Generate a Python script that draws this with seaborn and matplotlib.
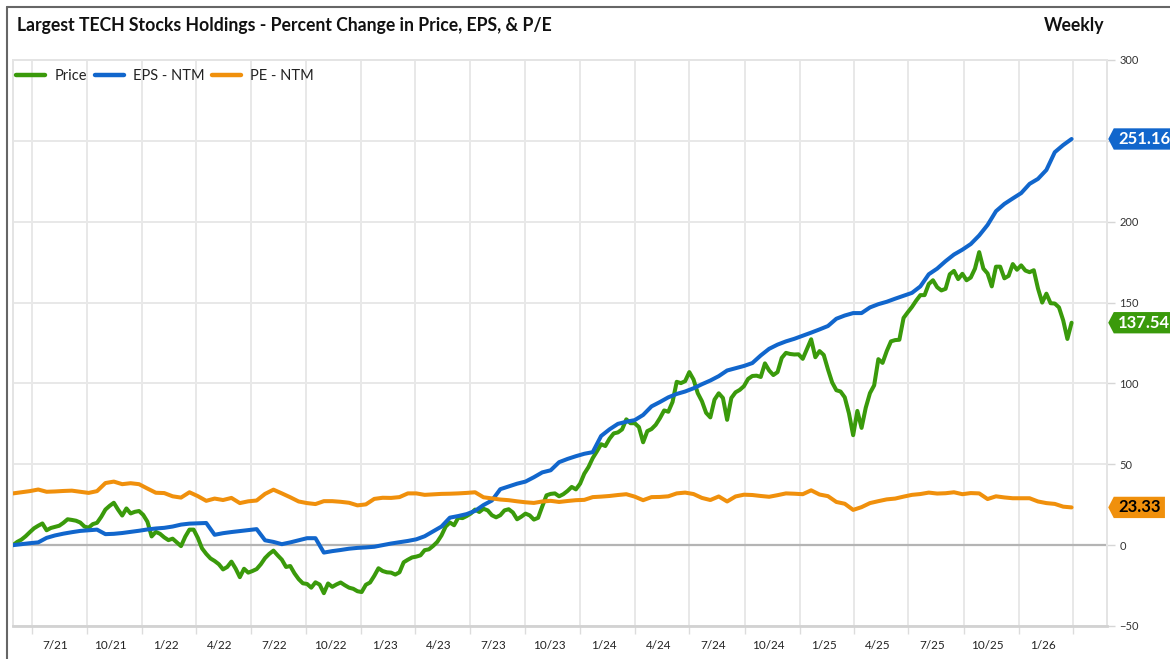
import numpy as np
import pandas as pd
import matplotlib
matplotlib.use("Agg")
import matplotlib.pyplot as plt
import matplotlib.dates as mdates
from matplotlib.ticker import FixedLocator, FixedFormatter, NullFormatter
from matplotlib.lines import Line2D
from matplotlib.path import Path
import seaborn as sns

# ---------------------------------------------------------------- data
title = "Largest TECH Stocks Holdings - Percent Change in Price, EPS, & P/E"
freq_label = "Weekly"
series_names = ["Price", "EPS - NTM", "PE - NTM"]
series_colors = ["#3a9a0b", "#1166cc", "#f0900c"]
label_text_colors = ["white", "white", "black"]

start_date = "2021-05-31"

# weekly percent change in price
price = [
    0, 2, 3.4, 5.5, 8, 10.4, 12, 13.4, 9.2, 10.6,
    11.3, 12, 13.8, 16, 15.6, 15.1, 14, 11.5, 10.8, 13,
    13.8, 17.5, 22, 24.3, 26.2, 22, 18.3, 22.7, 19.6, 20.6,
    21.1, 18.7, 14.5, 5.4, 8.2, 7, 4.8, 3.1, 4, 1.7,
    -0.6, 5.2, 9.6, 9.6, 4.5, -2, -5.4, -8.2, -9.8, -11.8,
    -15, -13.5, -10.2, -14.5, -19.8, -14.6, -17, -16, -14.8, -11.8,
    -8, -5.4, -3.4, -6.3, -9, -13.5, -12.9, -17.4, -21, -23.6,
    -24, -26.3, -23, -24.4, -29.7, -23.7, -25.8, -24.3, -23.1, -24.8,
    -26.3, -27, -28.5, -29, -24.5, -23.1, -19, -14.3, -16, -16.8,
    -17, -18.2, -16.8, -10.6, -9, -7.6, -7.1, -6.3, -3.1, -2.6,
    -0.5, 2, 6, 11.5, 14, 12.3, 17, 16.7, 18, 19.6,
    22, 20.5, 22.5, 21.5, 18.5, 17.2, 18.5, 21.5, 22.2, 20.2,
    16, 17.6, 19.5, 18.4, 15.8, 16.9, 24, 30.8, 31.7, 32,
    30.2, 31.5, 33.5, 36, 34.5, 38, 44.2, 48.3, 53.8, 58,
    62.4, 61.3, 65.8, 69.1, 69.7, 71.6, 77.8, 75.4, 75.4, 73,
    63.6, 70.5, 71.8, 74.4, 78.5, 83.3, 82.5, 88.5, 101, 100.2,
    101.4, 107, 102.4, 94, 89, 81.8, 79, 90, 93.9, 91,
    77.5, 91, 94.5, 96, 98.3, 102.8, 104.6, 104.8, 104, 112.4,
    108, 105.2, 107, 115.8, 118.9, 118.2, 117.9, 118, 115.2, 121.3,
    127.3, 116.2, 120, 117.6, 108.7, 100.6, 95.8, 95, 91.4, 81.5,
    68, 83, 72.5, 85, 94, 98.8, 115, 112.7, 120, 126,
    126.8, 127, 140.5, 144, 147.3, 151.2, 154.6, 154.6, 161.5, 163.8,
    159.5, 157.5, 158.5, 167.5, 169.6, 164.5, 167.8, 163.8, 165.5, 171,
    181.2, 171, 168, 160, 172.2, 172.2, 165, 166.5, 173.8, 170.3,
    173, 169.8, 168.8, 170, 158.7, 150, 155.5, 149.6, 149.4, 147,
    139, 127.5, 137.54,
]

# bi-weekly percent change in next-twelve-month EPS
eps_ntm = [
    0, 0.6, 1.2, 1.7, 4.5, 6, 7.1, 8, 8.8, 9.2,
    9.6, 6.8, 7, 7.5, 8.2, 8.9, 9.7, 10.3, 10.7, 11.5,
    12.7, 13.3, 13.5, 13.7, 6.4, 7.4, 8.1, 8.7, 9.3, 9.9,
    3, 2, 0.6, 1.7, 3, 4.3, 4.3, -4.6, -3.7, -3,
    -2.2, -1.7, -1.4, -1, 0, 1, 1.8, 2.6, 3.6, 5.5,
    8.5, 11.5, 17, 18, 19.2, 21.2, 24.8, 27.6, 34.6, 36.3,
    38, 39.3, 42, 45, 46.3, 51.3, 53.3, 55, 56.5, 57.5,
    67.5, 71.6, 75, 76.3, 77.3, 80.5, 85.8, 88.5, 91.4, 93.5,
    95, 97, 99.5, 101.8, 104.5, 108, 109.4, 110.8, 112.6, 117.3,
    121.4, 124, 126, 127.6, 129.5, 131.4, 133.4, 135.5, 140, 142,
    143.5, 143.5, 147, 149, 150.5, 152.4, 154.2, 156, 160, 167.5,
    171, 175.6, 179.7, 182.7, 186.2, 191.5, 198, 206.5, 211, 214.4,
    217.7, 223.4, 226.5, 232, 243, 247.4, 251.16,
]

# bi-weekly next-twelve-month P/E
pe_ntm = [
    32, 32.7, 33.4, 34.4, 33, 33.2, 33.5, 33.7, 33, 32.3,
    33.4, 38.4, 39.3, 37.7, 38.3, 37.7, 35, 32.4, 32.2, 30.2,
    29.4, 32.7, 30.3, 27.4, 28.8, 27.9, 29.2, 26, 27.1, 27.6,
    31.7, 34.3, 32, 29.6, 27, 26, 25.4, 27.2, 27.2, 26.8,
    26.2, 24.6, 25.2, 28.6, 29.3, 29.2, 29.7, 32, 32, 31.1,
    31.4, 31.7, 31.8, 32, 32.3, 32.7, 29.6, 28.9, 28.2, 27.8,
    27.1, 26.5, 26.1, 27, 27.4, 26.7, 27.3, 27.8, 28, 29.7,
    30, 30.4, 31, 31.5, 30, 27.8, 29.7, 29.8, 30.2, 32,
    32.5, 31.6, 29.2, 27.9, 30.1, 27, 30.1, 31.2, 31, 30.4,
    29.9, 30.9, 32, 31.8, 31.5, 33.9, 31.3, 30.3, 26.7, 25.6,
    21.8, 23.5, 26, 27.2, 28.3, 28.8, 30, 31.1, 31.6, 32.5,
    31.9, 32.1, 32.7, 31.5, 32.2, 32, 28.5, 30.2, 29.5, 29,
    29, 29, 27, 26, 25.5, 23.8, 23.33,
]

x_labels = ["7/21", "10/21", "1/22", "4/22", "7/22", "10/22", "1/23", "4/23",
            "7/23", "10/23", "1/24", "4/24", "7/24", "10/24", "1/25", "4/25",
            "7/25", "10/25", "1/26"]
y_ticks = [-50, 0, 50, 100, 150, 200, 250, 300]

# ---------------------------------------------------------------- frame
price_dates = pd.date_range(start_date, periods=len(price), freq="7D")
eps_dates = pd.date_range(start_date, periods=len(eps_ntm), freq="14D")
pe_dates = pd.date_range(start_date, periods=len(pe_ntm), freq="14D")

df = pd.concat([
    pd.DataFrame({"date": price_dates, "value": price, "series": series_names[0]}),
    pd.DataFrame({"date": eps_dates, "value": eps_ntm, "series": series_names[1]}),
    pd.DataFrame({"date": pe_dates, "value": pe_ntm, "series": series_names[2]}),
], ignore_index=True)

# ---------------------------------------------------------------- style
sns.set_style("white")
plt.rcParams["font.family"] = ["Lato", "DejaVu Sans"]

W, H = 1170, 659
fig = plt.figure(figsize=(W / 100, H / 100), dpi=100)
ax = fig.add_axes([13 / W, 1 - 626 / H, (1107 - 13) / W, (626 - 60) / H])

palette = dict(zip(series_names, series_colors))
sns.lineplot(data=df, x="date", y="value", hue="series", hue_order=series_names,
             palette=palette, linewidth=2.9, legend=False, ax=ax, zorder=3)

# axes limits
ax.set_ylim(-50, 300)
ax.set_xlim(pd.Timestamp(start_date), pd.Timestamp("2026-05-28"))
ax.set_xlabel("")
ax.set_ylabel("")

# y axis on the right
ax.yaxis.tick_right()
ax.set_yticks(y_ticks)
ax.tick_params(axis="y", which="major", length=6, width=1, color="#d6d6d6",
               pad=3, labelsize=8, labelcolor="#333333")

# x axis: quarter grid lines, labels set inside each quarter
ax.xaxis.set_major_locator(mdates.MonthLocator(bymonth=(1, 4, 7, 10)))
ax.xaxis.set_major_formatter(NullFormatter())
label_pos = []
for s in x_labels:
    m, yy = s.split("/")
    label_pos.append(mdates.date2num(pd.Timestamp(2000 + int(yy), int(m), 1)
                                     + pd.Timedelta(days=40)))
ax.xaxis.set_minor_locator(FixedLocator(label_pos))
ax.xaxis.set_minor_formatter(FixedFormatter(x_labels))
ax.tick_params(axis="x", which="major", length=6, width=1, color="#dcdcdc",
               direction="out", bottom=True)
ax.tick_params(axis="x", which="minor", length=0, pad=10, labelsize=8.5,
               labelcolor="#222222", bottom=True)

ax.grid(True, axis="both", which="major", color="#e8e8e8", linewidth=1.4, zorder=0)
ax.axhline(0, color="#b4b4b4", linewidth=1.6, zorder=1)

for side, sp in ax.spines.items():
    sp.set_visible(True)
    sp.set_color("#e4e4e4")
    sp.set_linewidth(1.4)
ax.spines["bottom"].set_color("#d2d2d2")
ax.spines["bottom"].set_linewidth(2)

# legend
handles = [Line2D([], [], color=c, linewidth=3.2) for c in series_colors]
leg = ax.legend(handles, series_names, loc="upper left", bbox_to_anchor=(0.003, 0.984),
                ncol=3, frameon=False, fontsize=10.5, handlelength=2.0,
                handletextpad=0.6, columnspacing=0.55, borderaxespad=0, borderpad=0)
for t in leg.get_texts():
    t.set_color("#222222")


# last-value flags on the right edge
def flag_box(x0, y0, width, height, mutation_size):
    px = 0.26 * mutation_size
    py = 0.16 * mutation_size
    left, right = x0 - px, x0 + width + px
    bottom, top = y0 - py, y0 + height + py
    tip = left - 0.26 * (top - bottom)
    mid = 0.5 * (bottom + top)
    verts = [(tip, mid), (left, top), (right, top), (right, bottom),
             (left, bottom), (tip, mid), (tip, mid)]
    codes = [Path.MOVETO] + [Path.LINETO] * 5 + [Path.CLOSEPOLY]
    return Path(verts, codes)


last_values = [price[-1], eps_ntm[-1], pe_ntm[-1]]
for v, c, tc in zip(last_values, series_colors, label_text_colors):
    ax.annotate(f"{v:.2f}", xy=(1, v), xycoords=("axes fraction", "data"),
                xytext=(8, 0), textcoords="offset points", ha="left", va="center",
                fontsize=12, fontweight="bold", color=tc,
                bbox=dict(boxstyle=flag_box, fc=c, ec="none"),
                annotation_clip=False, zorder=6)

# title row
fig.text(17 / W, 1 - 25 / H, title, fontsize=12.7, fontweight="bold",
         color="#111111", ha="left", va="center")
fig.text(1104 / W, 1 - 25 / H, freq_label, fontsize=12.7, fontweight="bold",
         color="#111111", ha="right", va="center")

# outer frame (left and top edges)
fig.add_artist(Line2D([7 / W, 7 / W], [0, 1 - 7 / H], transform=fig.transFigure,
                      color="#666666", linewidth=1.5))
fig.add_artist(Line2D([7 / W, 1], [1 - 7 / H, 1 - 7 / H], transform=fig.transFigure,
                      color="#666666", linewidth=1.5))

fig.savefig("out.png", dpi=100, facecolor="white")
